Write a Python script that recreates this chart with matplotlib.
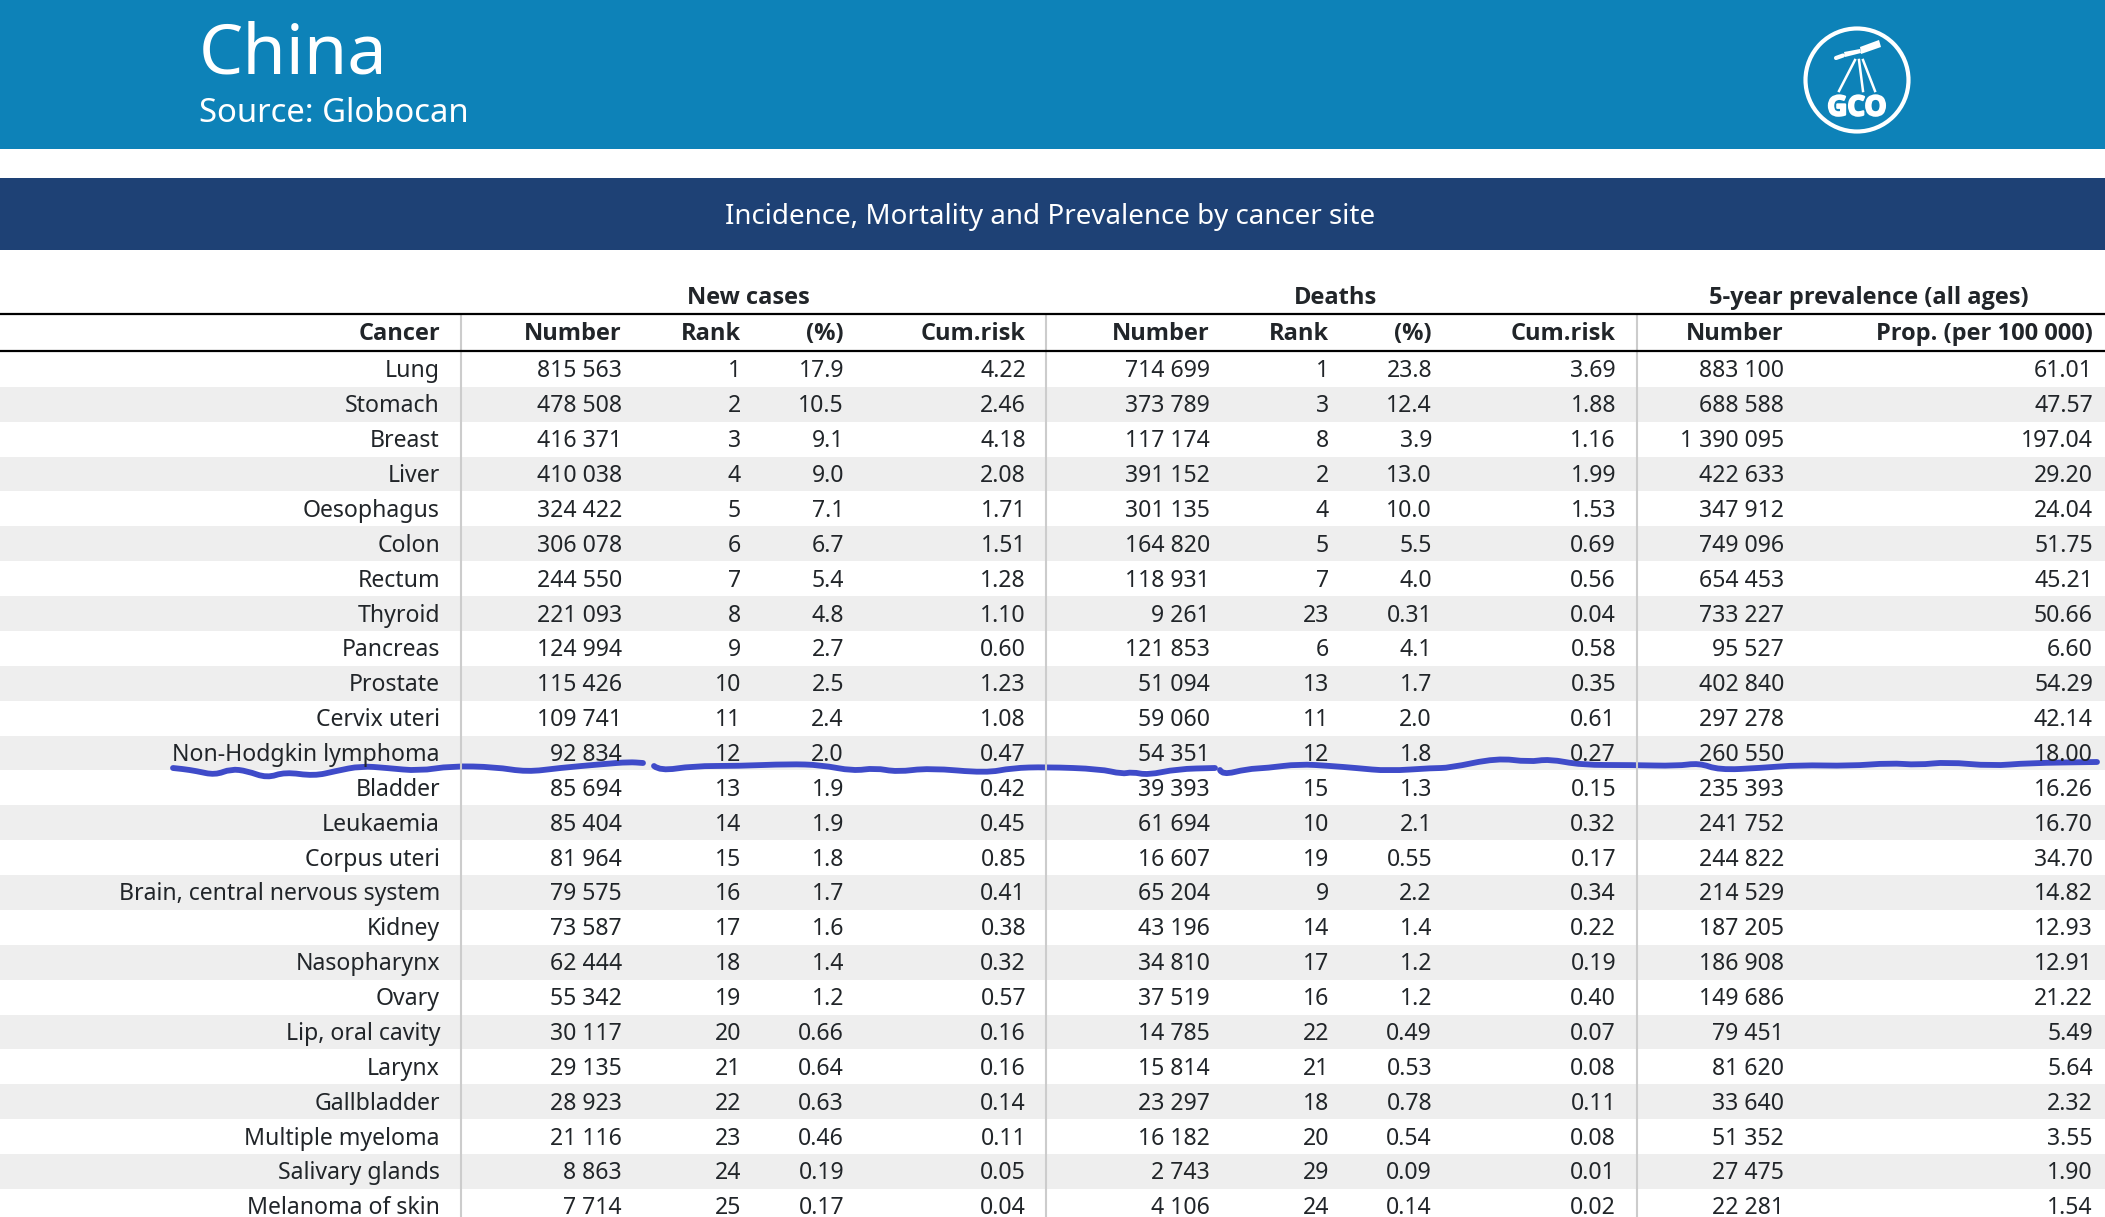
import matplotlib
matplotlib.use('Agg')
import matplotlib.pyplot as plt
from matplotlib.patches import Rectangle, Circle, Polygon, PathPatch
from matplotlib.path import Path
import matplotlib.patheffects as pe

plt.rcParams['font.family'] = ['Noto Sans', 'DejaVu Sans']

cancers = ['Lung', 'Stomach', 'Breast', 'Liver', 'Oesophagus', 'Colon', 'Rectum', 'Thyroid', 'Pancreas',
           'Prostate', 'Cervix uteri', 'Non-Hodgkin lymphoma', 'Bladder', 'Leukaemia', 'Corpus uteri',
           'Brain, central nervous system', 'Kidney', 'Nasopharynx', 'Ovary', 'Lip, oral cavity', 'Larynx',
           'Gallbladder', 'Multiple myeloma', 'Salivary glands', 'Melanoma of skin']
new_number = ['815 563', '478 508', '416 371', '410 038', '324 422', '306 078', '244 550', '221 093', '124 994',
              '115 426', '109 741', '92 834', '85 694', '85 404', '81 964', '79 575', '73 587', '62 444',
              '55 342', '30 117', '29 135', '28 923', '21 116', '8 863', '7 714']
new_rank = [str(i) for i in range(1, 26)]
new_pct = ['17.9', '10.5', '9.1', '9.0', '7.1', '6.7', '5.4', '4.8', '2.7', '2.5', '2.4', '2.0', '1.9', '1.9',
           '1.8', '1.7', '1.6', '1.4', '1.2', '0.66', '0.64', '0.63', '0.46', '0.19', '0.17']
new_cum = ['4.22', '2.46', '4.18', '2.08', '1.71', '1.51', '1.28', '1.10', '0.60', '1.23', '1.08', '0.47', '0.42',
           '0.45', '0.85', '0.41', '0.38', '0.32', '0.57', '0.16', '0.16', '0.14', '0.11', '0.05', '0.04']
death_number = ['714 699', '373 789', '117 174', '391 152', '301 135', '164 820', '118 931', '9 261', '121 853',
                '51 094', '59 060', '54 351', '39 393', '61 694', '16 607', '65 204', '43 196', '34 810',
                '37 519', '14 785', '15 814', '23 297', '16 182', '2 743', '4 106']
death_rank = ['1', '3', '8', '2', '4', '5', '7', '23', '6', '13', '11', '12', '15', '10', '19', '9', '14', '17',
              '16', '22', '21', '18', '20', '29', '24']
death_pct = ['23.8', '12.4', '3.9', '13.0', '10.0', '5.5', '4.0', '0.31', '4.1', '1.7', '2.0', '1.8', '1.3', '2.1',
             '0.55', '2.2', '1.4', '1.2', '1.2', '0.49', '0.53', '0.78', '0.54', '0.09', '0.14']
death_cum = ['3.69', '1.88', '1.16', '1.99', '1.53', '0.69', '0.56', '0.04', '0.58', '0.35', '0.61', '0.27', '0.15',
             '0.32', '0.17', '0.34', '0.22', '0.19', '0.40', '0.07', '0.08', '0.11', '0.08', '0.01', '0.02']
prev_number = ['883 100', '688 588', '1 390 095', '422 633', '347 912', '749 096', '654 453', '733 227', '95 527',
               '402 840', '297 278', '260 550', '235 393', '241 752', '244 822', '214 529', '187 205', '186 908',
               '149 686', '79 451', '81 620', '33 640', '51 352', '27 475', '22 281']
prev_prop = ['61.01', '47.57', '197.04', '29.20', '24.04', '51.75', '45.21', '50.66', '6.60', '54.29', '42.14',
             '18.00', '16.26', '16.70', '34.70', '14.82', '12.93', '12.91', '21.22', '5.49', '5.64', '2.32',
             '3.55', '1.90', '1.54']
col_titles = ['Cancer', 'Number', 'Rank', '(%)', 'Cum.risk', 'Number', 'Rank', '(%)', 'Cum.risk', 'Number',
              'Prop. (per 100 000)']
group_titles = ['New cases', 'Deaths', '5-year prevalence (all ages)']

columns = [cancers, new_number, new_rank, new_pct, new_cum, death_number, death_rank, death_pct, death_cum,
           prev_number, prev_prop]
col_right = [440, 622, 741, 844, 1026, 1210, 1329, 1432, 1616, 1784, 2093]
group_x = [748, 1336, 1869]

# pen stroke under the Non-Hodgkin row, pixel coords read from the zooms
pen1_x = [173, 183, 196, 215, 231, 247, 267, 285, 314, 336, 361, 387, 419, 451, 495, 527, 559, 604, 629, 643]
pen1_y = [768, 769, 771, 775, 769, 771, 778, 772, 776, 771, 766, 768, 771, 766, 767, 772, 768, 764, 762, 763]
pen2_x = [654, 660, 693, 738, 789, 821, 853, 875, 897, 929, 986, 1012, 1046, 1100, 1122, 1132, 1148, 1177, 1215]
pen2_y = [766, 771, 766, 766, 764, 765, 771, 768, 772, 768, 773, 768, 767, 769, 774, 772, 775, 769, 768]
pen3_x = [1220, 1222, 1247, 1267, 1299, 1331, 1356, 1388, 1433, 1449, 1497, 1529, 1549, 1581, 1632, 1677, 1699,
          1719, 1760, 1799, 1850, 1890, 1918, 1947, 1992, 2028, 2097]
pen3_y = [770, 775, 769, 768, 764, 766, 768, 771, 768, 768, 758, 762, 759, 765, 765, 766, 763, 770, 768, 765, 766,
          763, 765, 762, 766, 763, 762]


def smooth_stroke(xs, ys):
    # quadratic pieces through the midpoints so the pen line has no corners
    verts = [(xs[0], ys[0])]
    codes = [Path.MOVETO]
    for i in range(1, len(xs) - 1):
        verts.append((xs[i], ys[i]))
        codes.append(Path.CURVE3)
        verts.append(((xs[i] + xs[i + 1]) / 2, (ys[i] + ys[i + 1]) / 2))
        codes.append(Path.CURVE3)
    verts.append((xs[-1], ys[-1]))
    codes.append(Path.LINETO)
    return Path(verts, codes)


fig = plt.figure(figsize=(21.05, 12.17), dpi=100)
ax = fig.add_axes([0, 0, 1, 1])
ax.set_xlim(0, 2105)
ax.set_ylim(1217, 0)
ax.axis('off')

# banners
ax.add_patch(Rectangle((0, 0), 2105, 149, color='#0d82b8', lw=0))
ax.add_patch(Rectangle((0, 178), 2105, 72, color='#1e4175', lw=0))
ax.text(199, 74, 'China', color='white', fontsize=50.5, va='baseline')
ax.text(199, 122, 'Source: Globocan', color='white', fontsize=23.7, va='baseline')
ax.text(1050, 217, 'Incidence, Mortality and Prevalence by cancer site', color='white', fontsize=20,
        ha='center', va='center')

# logo
ax.add_patch(Circle((1857, 80), 51.5, fc='none', ec='white', lw=3))
ax.add_patch(Polygon([(1860, 47), (1879, 40), (1881, 47), (1861, 54)], color='white', lw=0))
ax.add_patch(Polygon([(1844, 52), (1860, 49), (1861, 53), (1845, 57)], color='white', lw=0))
ax.plot([1836, 1843], [58, 55.5], color='white', lw=3, solid_capstyle='round')
ax.plot([1855, 1839], [60, 91], color='white', lw=1.8)
ax.plot([1859, 1863], [60, 91], color='white', lw=1.8)
ax.plot([1863, 1875], [60, 91], color='white', lw=1.8)
ax.text(1857, 108, 'GCO', color='white', fontsize=20, family='Open Sans', fontweight='bold', ha='center',
        va='center', path_effects=[pe.withStroke(linewidth=1.5, foreground='white')])

# stripes
row0 = 352
row_h = 34.87
for i in range(len(cancers)):
    if i % 2 == 1:
        ax.add_patch(Rectangle((0, row0 + i * row_h), 2105, row_h, color='#eeeeee', lw=0))

# rules
for x in [461, 1046, 1637]:
    ax.plot([x, x], [314, 1217], color='#cccccc', lw=1.5, solid_capstyle='butt')
ax.plot([0, 2105], [314, 314], color='black', lw=1.6)
ax.plot([0, 2105], [351, 351], color='black', lw=1.6)

# headers
text_col = '#212529'
for x, t in zip(group_x, group_titles):
    ax.text(x, 298, t, color=text_col, fontsize=17, family='Open Sans', fontweight='bold', ha='center',
            va='center')
for x, t in zip(col_right, col_titles):
    ax.text(x, 334, t, color=text_col, fontsize=17, family='Open Sans', fontweight='bold', ha='right',
            va='center')

# body
for x, col in zip(col_right, columns):
    for i, val in enumerate(col):
        ax.text(x, row0 + (i + 0.5) * row_h + 8, val, color=text_col, fontsize=16.6, ha='right', va='baseline',
                clip_on=True)

for px, py in [(pen1_x, pen1_y), (pen2_x, pen2_y), (pen3_x, pen3_y)]:
    ax.add_patch(PathPatch(smooth_stroke(px, py), fc='none', ec='#3f4bc9', lw=4.2, capstyle='round',
                           joinstyle='round'))

fig.savefig('out.png', dpi=100)
